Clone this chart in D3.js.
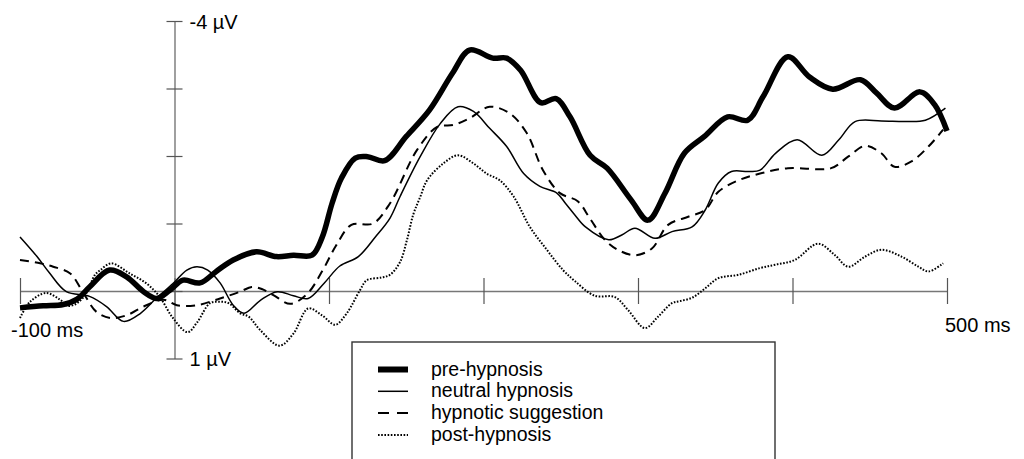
<!DOCTYPE html>
<html>
<head>
<meta charset="utf-8">
<script src="https://cdn.jsdelivr.net/npm/d3@7/dist/d3.min.js"></script>
<style>
  html, body { margin: 0; padding: 0; background: #fff; }
  svg { display: block; }
  text { font-family: "Liberation Sans", Arial, Helvetica, sans-serif; fill: #000; }
</style>
</head>
<body>
<svg id="chart" width="1024" height="459"></svg>
<script>
// ---- data (time in ms, amplitude in µV; negative up) ----
const xTicks = [-100, 0, 100, 200, 300, 400, 500];
const yTicks = [-4, -3, -2, -1, 0, 1];
const xTickLabels = [{v: -100, t: "-100 ms"}, {v: 500, t: "500 ms"}];
const yTickLabels = [{v: -4, t: "-4 µV"}, {v: 1, t: "1 µV"}];
const seriesNames = ["pre-hypnosis", "neutral hypnosis", "hypnotic suggestion", "post-hypnosis"];

const preHypnosis = [[-100,0.25],[-85,0.22],[-72,0.20],[-63,0.12],[-55,-0.06],[-42,-0.31],[-31,-0.21],[-20,0.01],[-11.5,0.11],[-3,-0.01],[5.5,-0.16],[16.5,-0.12],[27,-0.29],[38,-0.46],[53,-0.58],[66,-0.51],[77,-0.53],[89,-0.53],[95.5,-0.79],[102,-1.30],[108,-1.67],[117,-1.97],[125,-1.99],[136,-1.93],[150,-2.29],[165,-2.68],[180,-3.23],[191,-3.57],[206,-3.45],[215,-3.45],[224,-3.27],[237,-2.79],[247,-2.85],[256,-2.58],[269,-2.01],[280,-1.82],[295.5,-1.35],[306.5,-1.05],[317.5,-1.45],[330,-2.04],[343,-2.29],[358,-2.58],[371,-2.53],[381,-2.88],[397,-3.47],[411,-3.17],[426,-2.99],[444,-3.13],[454.5,-2.93],[466,-2.71],[482.5,-2.95],[492,-2.76],[500,-2.37]];

const neutralHypnosis = [[-100,-0.80],[-89,-0.51],[-81,-0.27],[-70,0.01],[-55,0.08],[-44,0.23],[-33,0.45],[-22,0.33],[-11.5,0.10],[-1,-0.11],[8,-0.31],[14.5,-0.36],[21.5,-0.31],[29.5,-0.12],[38,0.21],[45,0.33],[56,0.13],[66.5,0.01],[77,0.07],[86.5,0.11],[97,-0.12],[107,-0.37],[119,-0.51],[130,-0.80],[139.5,-1.08],[146,-1.40],[159,-1.99],[172,-2.48],[183.5,-2.73],[193.5,-2.66],[204,-2.41],[215,-2.14],[226,-1.74],[236.5,-1.55],[247.5,-1.45],[253,-1.30],[259,-1.13],[266,-0.95],[281,-0.76],[289.5,-0.83],[298,-0.93],[311,-0.78],[322,-0.88],[335,-0.95],[343.5,-1.20],[352,-1.60],[360.5,-1.77],[371.5,-1.77],[379,-1.79],[389,-2.04],[403,-2.24],[419,-2.01],[430,-2.24],[440.5,-2.51],[457.5,-2.52],[473,-2.51],[486,-2.53],[499,-2.71]];

const hypnoticSuggestion = [[-100,-0.46],[-87,-0.41],[-78.5,-0.36],[-67.5,-0.26],[-59,0.03],[-50.5,0.31],[-41.5,0.40],[-31,0.36],[-20,0.23],[-7,0.13],[1.5,0.21],[14.5,0.21],[29.5,0.11],[42.5,0.01],[50,-0.06],[56.5,-0.03],[64,0.06],[75,0.19],[86,0.04],[96,-0.31],[104.5,-0.67],[114.5,-0.98],[128.5,-1.00],[139.5,-1.30],[157,-2.09],[170,-2.43],[180.5,-2.46],[191,-2.56],[204,-2.73],[217,-2.63],[228,-2.34],[238.5,-1.79],[249.5,-1.45],[261,-1.33],[269,-1.07],[278.5,-0.76],[287,-0.61],[298,-0.53],[309,-0.63],[319.5,-0.98],[332.5,-1.10],[343.5,-1.20],[352,-1.47],[365,-1.64],[379,-1.74],[397,-1.82],[425,-1.82],[436,-1.99],[447,-2.15],[457.5,-2.04],[466,-1.84],[477,-1.92],[488,-2.14],[497.5,-2.39]];

const postHypnosis = [[-100,0.40],[-93.5,0.16],[-83,0.03],[-74,0.13],[-69,0.22],[-63,0.18],[-57,0.03],[-51.5,-0.24],[-48,-0.31],[-41,-0.41],[-29,-0.26],[-18,-0.11],[-9.5,0.09],[-1,0.40],[8.5,0.61],[14.5,0.47],[23,0.18],[29.5,0.16],[35,0.18],[42.5,0.33],[48,0.38],[55.5,0.58],[68,0.81],[77,0.63],[86.5,0.26],[95.5,0.36],[104,0.50],[111.5,0.33],[120,-0.01],[124.5,-0.16],[134,-0.20],[139.5,-0.24],[146,-0.43],[150.5,-0.76],[154.5,-1.13],[159,-1.39],[163.5,-1.64],[174,-1.89],[183.5,-2.01],[193.5,-1.89],[202,-1.74],[210.5,-1.64],[219.5,-1.40],[230,-0.95],[241,-0.61],[251.5,-0.31],[259,-0.15],[272,0.07],[285,0.09],[293.5,0.28],[304.5,0.55],[313,0.38],[322,0.18],[327,0.15],[335,0.10],[343.5,-0.04],[352,-0.19],[365,-0.24],[379,-0.34],[389,-0.39],[401.5,-0.46],[416.5,-0.70],[427.5,-0.53],[436,-0.36],[447,-0.51],[457.5,-0.61],[470.5,-0.51],[481.5,-0.36],[488,-0.29],[497.5,-0.41]];

// ---- styles ----
const styles = [
  {width: 5.5, dash: null},
  {width: 1.5, dash: null},
  {width: 2,   dash: "9,6"},
  {width: 2,   dash: "1.6,1.6"}
];
const allSeries = [preHypnosis, neutralHypnosis, hypnoticSuggestion, postHypnosis];

const svg = d3.select("#chart");
const x = d3.scaleLinear().domain([-100, 500]).range([20, 947]);
const y = d3.scaleLinear().domain([-4, 1]).range([21, 358.5]);

const axisColor = "#777";

// x axis at 0 µV
const gx = svg.append("g").attr("transform", `translate(0,${y(0)})`)
  .call(d3.axisBottom(x).tickValues(xTicks).tickSize(13).tickSizeOuter(0).tickFormat(""));
gx.select(".domain").attr("stroke", axisColor).attr("stroke-width", 1.4);
gx.selectAll(".tick line").attr("y1", -13).attr("y2", 13).attr("stroke", "#555").attr("stroke-width", 1.2);

// y axis at 0 ms
const gy = svg.append("g").attr("transform", `translate(${x(0)},0)`)
  .call(d3.axisLeft(y).tickValues(yTicks).tickSize(8).tickSizeOuter(0).tickFormat(""));
gy.select(".domain").attr("stroke", axisColor).attr("stroke-width", 1.4);
gy.selectAll(".tick line").attr("x1", -8).attr("x2", 8).attr("stroke", "#555").attr("stroke-width", 1.2);

// axis labels
svg.selectAll(".ylab").data(yTickLabels).enter().append("text")
  .attr("x", x(0) + 15).attr("y", d => y(d.v) + 7.5)
  .attr("font-size", 20).text(d => d.t);
svg.append("text").attr("x", x(xTickLabels[0].v) - 9).attr("y", y(0) + 46)
  .attr("font-size", 20).text(xTickLabels[0].t);
svg.append("text").attr("x", x(xTickLabels[1].v) - 2).attr("y", y(0) + 41)
  .attr("font-size", 20).text(xTickLabels[1].t);

// lines
const line = d3.line().x(d => x(d[0])).y(d => y(d[1])).curve(d3.curveCatmullRom.alpha(0.5));
// draw in order: dotted, dashed, thin, thick
[3, 2, 1, 0].forEach(i => {
  svg.append("path").datum(allSeries[i])
    .attr("d", line)
    .attr("fill", "none")
    .attr("stroke", "#000")
    .attr("stroke-width", styles[i].width)
    .attr("stroke-dasharray", styles[i].dash)
    .attr("stroke-linejoin", "round");
});

// legend
const lg = svg.append("g");
lg.append("rect").attr("x", 352).attr("y", 342).attr("width", 423).attr("height", 140)
  .attr("fill", "#fff").attr("stroke", "#333").attr("stroke-width", 1.4);
const legendFont = 19.5, legendStep = 21.8;
seriesNames.forEach((name, i) => {
  const base = 375.5 + i * legendStep;
  lg.append("line").attr("x1", 378).attr("x2", 408).attr("y1", base - 6).attr("y2", base - 6)
    .attr("stroke", "#000").attr("stroke-width", i === 0 ? 6 : styles[i].width)
    .attr("stroke-dasharray", i === 2 ? "11,8" : styles[i].dash);
  lg.append("text").attr("x", 431).attr("y", base).attr("font-size", legendFont).text(name);
});
</script>
</body>
</html>
